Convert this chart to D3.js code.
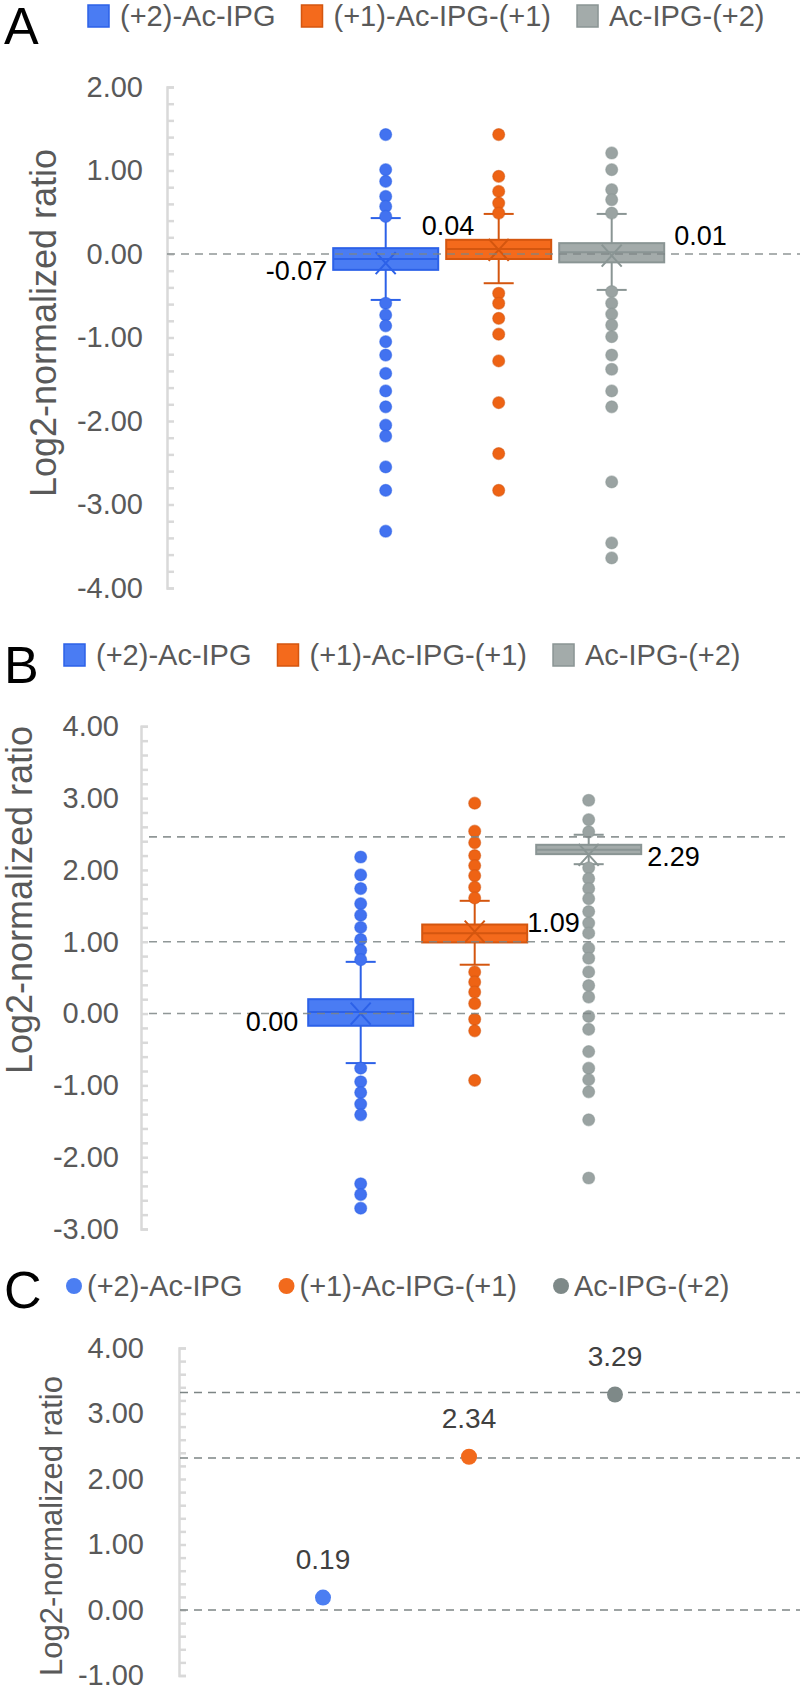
<!DOCTYPE html>
<html>
<head>
<meta charset="utf-8">
<script src="https://cdn.jsdelivr.net/npm/d3@7"></script>
<style>
  html, body { margin: 0; padding: 0; background: #fff; }
  svg { display: block; font-family: "Liberation Sans", Arial, sans-serif; }
</style>
</head>
<body>
<div id="chart"></div>
<script>
const categories = ['(+2)-Ac-IPG', '(+1)-Ac-IPG-(+1)', 'Ac-IPG-(+2)'];

// panel A: box plot summaries, one entry per category
const aQ1 = [-0.19, -0.06, -0.10];
const aMedian = [-0.06, 0.06, 0.02];
const aQ3 = [0.07, 0.17, 0.13];
const aMean = [-0.11, 0.05, -0.02];
const aWhiskerLow = [-0.55, -0.35, -0.43];
const aWhiskerHigh = [0.43, 0.48, 0.48];
const aOutliers = [
  [1.43, 1.01, 0.87, 0.69, 0.57, 0.45, -0.59, -0.73, -0.86, -1.05, -1.21, -1.43, -1.64, -1.83, -2.05, -2.18, -2.55, -2.83, -3.32],
  [1.43, 0.93, 0.75, 0.61, 0.49, -0.47, -0.59, -0.77, -0.96, -1.28, -1.78, -2.39, -2.83],
  [1.21, 1.01, 0.77, 0.65, 0.49, -0.45, -0.59, -0.72, -0.85, -0.99, -1.21, -1.38, -1.64, -1.83, -2.73, -3.46, -3.64],
];
const aLabels = ['-0.07', '0.04', '0.01'];
const aRefLines = [0];
const aTicks = [-4, -3, -2, -1, 0, 1, 2];

// panel B
const bQ1 = [-0.17, 0.99, 2.22];
const bMedian = [0.02, 1.12, 2.28];
const bQ3 = [0.20, 1.24, 2.35];
const bMean = [0.00, 1.14, 2.21];
const bWhiskerLow = [-0.69, 0.68, 2.08];
const bWhiskerHigh = [0.72, 1.57, 2.49];
const bOutliers = [
  [2.18, 1.93, 1.74, 1.53, 1.37, 1.20, 1.03, 0.88, 0.75, -0.76, -0.95, -1.10, -1.26, -1.41, -2.37, -2.52, -2.71],
  [2.93, 2.54, 2.38, 2.20, 2.06, 1.92, 1.76, 1.61, 0.58, 0.44, 0.30, 0.14, -0.08, -0.24, -0.93],
  [2.97, 2.70, 2.53, 2.03, 1.88, 1.74, 1.60, 1.42, 1.26, 1.12, 0.91, 0.77, 0.58, 0.39, 0.23, -0.04, -0.22, -0.53, -0.76, -0.92, -1.09, -1.48, -2.29],
];
const bLabels = ['0.00', '1.09', '2.29'];
const bRefLines = [0, 1, 2.46];
const bTicks = [-3, -2, -1, 0, 1, 2, 3, 4];

// panel C
const cValues = [0.19, 2.34, 3.29];
const cLabels = ['0.19', '2.34', '3.29'];
const cRefLines = [0, 2.32, 3.32];
const cTicks = [-1, 0, 1, 2, 3, 4];

const fill = ['#4a7cf3', '#f46a1c', '#a3abaa'];
const stroke = ['#2c61e8', '#d4560f', '#8a9594'];
const dotFill = ['#4272f0', '#ee6314', '#9aa3a2'];
const cColor = ['#4b7ef2', '#f26a1c', '#7e8988'];

const width = 800, height = 1687;
const svg = d3.select('#chart').append('svg').attr('width', width).attr('height', height);

function yAxis(g, y, ticks, axisX, gap) {
  const minor = d3.range(Math.round(d3.min(ticks) * 5), Math.round(d3.max(ticks) * 5) + 1).map(d => d / 5);
  g.append('g')
    .attr('transform', `translate(${axisX},0)`)
    .call(d3.axisRight(y).tickValues(minor).tickSize(7).tickFormat(''))
    .call(a => a.selectAll('line,path').attr('stroke', '#d9d9d9').attr('stroke-width', 2.5));
  g.append('g')
    .attr('transform', `translate(${axisX - gap},0)`)
    .call(d3.axisLeft(y).tickValues(ticks).tickSize(0).tickPadding(0).tickFormat(d => d.toFixed(2)))
    .call(a => {
      a.select('.domain').remove();
      a.selectAll('text').attr('font-size', 29).attr('fill', '#595959')
        .attr('font-family', '"Liberation Sans", Arial, sans-serif');
    });
}

function title(g, t) {
  g.append('text')
    .attr('transform', `translate(${t.x},${t.y}) rotate(-90)`)
    .attr('text-anchor', 'middle')
    .attr('dy', '0.35em')
    .attr('font-size', t.size)
    .attr('fill', '#595959')
    .text('Log2-normalized ratio');
}

function letter(g, s, x, y) {
  g.append('text').attr('x', x).attr('y', y).attr('font-size', 52).attr('fill', '#000').text(s);
}

function legend(g, p, round) {
  let cx = p.legendX;
  categories.forEach((c, i) => {
    if (round) {
      g.append('circle').attr('cx', cx + 8).attr('cy', p.legendY).attr('r', 8).attr('fill', cColor[i]);
      cx += 21;
    } else {
      g.append('rect').attr('x', cx).attr('y', p.legendY - 11).attr('width', 21).attr('height', 22)
        .attr('fill', fill[i]).attr('stroke', stroke[i]).attr('stroke-width', 1.5);
      cx += 32;
    }
    const t = g.append('text').attr('x', cx).attr('y', p.legendY).attr('dy', '0.35em')
      .attr('font-size', 29).attr('fill', '#595959').text(c);
    cx += t.node().getComputedTextLength() + (round ? 36 : 26);
  });
}

function boxPanel(p) {
  const g = svg.append('g');
  const y = d3.scaleLinear().domain(d3.extent(p.ticks)).range(p.yRange);
  const x = d3.scaleBand().domain(categories).range(p.xRange);
  const bw = 105;

  letter(g, p.letter, 4, p.letterY);
  legend(g, p, false);
  yAxis(g, y, p.ticks, p.axisX, p.labelGap);
  title(g, p.title);

  categories.forEach((c, i) => {
    const cx = x(c) + x.bandwidth() / 2;
    const b = g.append('g');
    b.append('line').attr('x1', cx).attr('x2', cx).attr('y1', y(p.whiskerHigh[i])).attr('y2', y(p.whiskerLow[i]))
      .attr('stroke', stroke[i]).attr('stroke-width', 2);
    [p.whiskerHigh[i], p.whiskerLow[i]].forEach(v => {
      b.append('line').attr('x1', cx - 15).attr('x2', cx + 15).attr('y1', y(v)).attr('y2', y(v))
        .attr('stroke', stroke[i]).attr('stroke-width', 2);
    });
    b.selectAll('circle').data(p.outliers[i]).join('circle')
      .attr('cx', cx).attr('cy', d => y(d)).attr('r', 6)
      .attr('fill', dotFill[i]).attr('stroke', stroke[i]).attr('stroke-opacity', 0.5).attr('stroke-width', 1.2);
    b.append('rect').attr('x', cx - bw / 2).attr('width', bw)
      .attr('y', y(p.q3[i])).attr('height', y(p.q1[i]) - y(p.q3[i]))
      .attr('fill', fill[i]).attr('stroke', stroke[i]).attr('stroke-width', 2);
    b.append('line').attr('x1', cx - bw / 2).attr('x2', cx + bw / 2).attr('y1', y(p.median[i])).attr('y2', y(p.median[i]))
      .attr('stroke', stroke[i]).attr('stroke-width', 2);
    const my = y(p.mean[i]);
    b.append('path').attr('d', `M${cx - 10},${my - 11}L${cx + 10},${my + 11}M${cx - 10},${my + 11}L${cx + 10},${my - 11}`)
      .attr('stroke', stroke[i]).attr('stroke-width', 2).attr('fill', 'none');
  });

  g.selectAll('.ref').data(p.refLines).join('line').attr('class', 'ref')
    .attr('x1', p.refX[0]).attr('x2', p.refX[1]).attr('y1', d => y(d)).attr('y2', d => y(d))
    .attr('stroke', '#7d8585').attr('stroke-width', 1.6).attr('stroke-dasharray', '8,6').attr('opacity', 0.85);

  categories.forEach((c, i) => {
    const pl = p.labelPlace[i];
    const left = x(c) + x.bandwidth() / 2 - bw / 2;
    const lx = pl.side === 'left' ? left + pl.dx : left + bw + pl.dx;
    g.append('text').attr('x', lx).attr('y', y(p.mean[i]) + pl.dy)
      .attr('text-anchor', pl.anchor).attr('font-size', 27).attr('fill', '#000').text(p.labels[i]);
  });
}

boxPanel({
  letter: 'A', letterY: 44, legendX: 88, legendY: 16,
  ticks: aTicks, yRange: [588, 87], xRange: [329.2, 668.2], axisX: 167, labelGap: 24,
  title: { x: 43, y: 323, size: 36 },
  q1: aQ1, q3: aQ3, median: aMedian, mean: aMean, whiskerLow: aWhiskerLow, whiskerHigh: aWhiskerHigh,
  outliers: aOutliers, labels: aLabels, refLines: aRefLines, refX: [167, 800],
  labelPlace: [
    { side: 'left', dx: -6, dy: 17, anchor: 'end' },
    { side: 'left', dx: 28, dy: -15, anchor: 'end' },
    { side: 'right', dx: 10, dy: -11, anchor: 'start' },
  ],
});

boxPanel({
  letter: 'B', letterY: 683, legendX: 64, legendY: 655,
  ticks: bTicks, yRange: [1229, 726.3], xRange: [303.7, 645.7], axisX: 141, labelGap: 22,
  title: { x: 19, y: 900, size: 36 },
  q1: bQ1, q3: bQ3, median: bMedian, mean: bMean, whiskerLow: bWhiskerLow, whiskerHigh: bWhiskerHigh,
  outliers: bOutliers, labels: bLabels, refLines: bRefLines, refX: [149, 785],
  labelPlace: [
    { side: 'left', dx: -10, dy: 17, anchor: 'end' },
    { side: 'right', dx: 0, dy: 0, anchor: 'start' },
    { side: 'right', dx: 6, dy: 11, anchor: 'start' },
  ],
});

// panel C: single values per category
(function() {
  const p = { legendX: 66, legendY: 1286 };
  const g = svg.append('g');
  const y = d3.scaleLinear().domain(d3.extent(cTicks)).range([1675.5, 1348]);
  const x = d3.scalePoint().domain(categories).range([323, 615]);

  letter(g, 'C', 4, 1308);
  legend(g, p, true);
  yAxis(g, y, cTicks, 179, 35);
  title(g, { x: 51, y: 1526, size: 31 });

  g.selectAll('.ref').data(cRefLines).join('line').attr('class', 'ref')
    .attr('x1', 180).attr('x2', 800).attr('y1', d => y(d)).attr('y2', d => y(d))
    .attr('stroke', '#7d8585').attr('stroke-width', 1.6).attr('stroke-dasharray', '8,6');

  g.selectAll('.pt').data(cValues).join('circle').attr('class', 'pt')
    .attr('cx', (d, i) => x(categories[i])).attr('cy', d => y(d)).attr('r', 8)
    .attr('fill', (d, i) => cColor[i]);

  g.selectAll('.lbl').data(cValues).join('text').attr('class', 'lbl')
    .attr('x', (d, i) => x(categories[i])).attr('y', d => y(d) - 29)
    .attr('text-anchor', 'middle').attr('font-size', 28).attr('fill', '#404040')
    .text((d, i) => cLabels[i]);
})();
</script>
</body>
</html>
